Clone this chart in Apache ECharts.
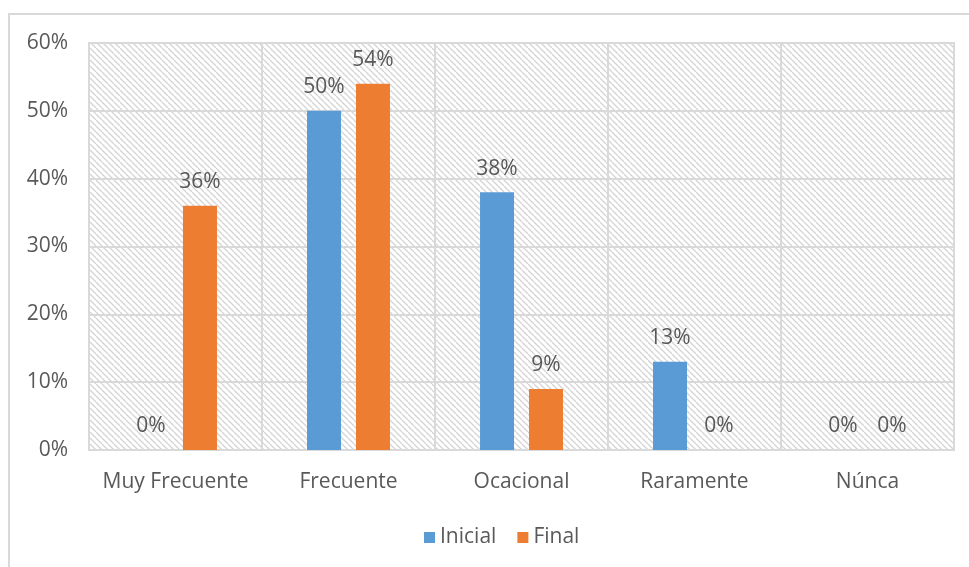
<!DOCTYPE html>
<html>
<head>
<meta charset="utf-8">
<script src="https://cdn.jsdelivr.net/npm/echarts@6/dist/echarts.min.js"></script>
<style>
  html, body { margin: 0; padding: 0; background: #fff; }
  #chart { width: 969px; height: 567px; }
</style>
</head>
<body>
<div id="chart"></div>
<script>
// Frequency categories and the two measurement rounds (percent)
const categories = ['Muy Frecuente', 'Frecuente', 'Ocacional', 'Raramente', 'Núnca'];
const inicial = [0, 50, 38, 13, 0];
const final = [36, 54, 9, 0, 0];
const yTicks = { min: 0, max: 60, step: 10 };

// Diagonal hatch tile for the plotting area
function hatchTile() {
  const s = 6;
  const c = document.createElement('canvas');
  c.width = s; c.height = s;
  const g = c.getContext('2d');
  g.fillStyle = '#ffffff';
  g.fillRect(0, 0, s, s);
  g.strokeStyle = '#d4d4d4';
  g.lineWidth = 1.3;
  for (let k = -1; k <= 1; k++) {
    g.beginPath();
    g.moveTo(k * s, 0);
    g.lineTo(k * s + s, s);
    g.stroke();
  }
  return c;
}

const textColor = '#595959';
const lineColor = '#d9d9d9';
const font = '"Open Sans", "Noto Sans", sans-serif';
const fs = 21;

const chart = echarts.init(document.getElementById('chart'), null, { renderer: 'canvas' });

const labelOpt = {
  show: true,
  position: 'top',
  distance: 13,
  color: textColor,
  fontSize: fs,
  fontFamily: font,
  formatter: p => p.value + '%'
};

chart.setOption({
  animation: false,
  backgroundColor: '#ffffff',
  textStyle: { fontFamily: font },
  graphic: [
    {
      type: 'polyline',
      silent: true,
      shape: { points: [[9, 567], [9, 14], [969, 14]] },
      style: { stroke: lineColor, lineWidth: 2, fill: null }
    }
  ],
  grid: {
    left: 89, right: 15, top: 43, bottom: 117,
    show: true,
    backgroundColor: { image: hatchTile(), repeat: 'repeat' },
    borderColor: lineColor,
    borderWidth: 2
  },
  legend: {
    bottom: 14,
    left: 419,
    icon: 'rect',
    itemWidth: 11,
    itemHeight: 11,
    itemGap: 21,
    textStyle: { color: textColor, fontSize: fs, fontFamily: font },
    data: ['Inicial', 'Final']
  },
  xAxis: {
    type: 'category',
    data: categories,
    axisLine: { show: true, lineStyle: { color: lineColor, width: 2 } },
    axisTick: { show: false },
    splitLine: { show: true, interval: 0, lineStyle: { color: lineColor, width: 2 } },
    axisLabel: { interval: 0, color: textColor, fontSize: fs, fontFamily: font, margin: 22 }
  },
  yAxis: {
    type: 'value',
    min: yTicks.min,
    max: yTicks.max,
    interval: yTicks.step,
    axisLine: { show: false },
    axisTick: { show: false },
    splitLine: { show: true, lineStyle: { color: lineColor, width: 2 } },
    axisLabel: { color: textColor, fontSize: fs, fontFamily: font, margin: 21, formatter: '{value}%' }
  },
  series: [
    {
      name: 'Inicial',
      type: 'bar',
      data: inicial,
      barWidth: 34,
      barGap: '44%',
      itemStyle: { color: '#5b9bd5' },
      label: labelOpt
    },
    {
      name: 'Final',
      type: 'bar',
      data: final,
      barWidth: 34,
      itemStyle: { color: '#ed7d31' },
      label: labelOpt
    }
  ]
});
</script>
</body>
</html>
